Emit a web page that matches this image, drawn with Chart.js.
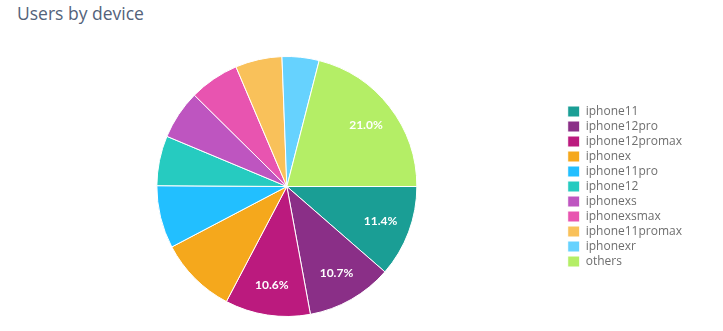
<!DOCTYPE html>
<html lang="en">
<head>
    <meta charset="UTF-8">
    <title>Users by device</title>
    <style>
        html, body { margin: 0; padding: 0; background: #fff; }
        #wrap { position: relative; width: 723px; height: 331px; }
        #title {
            position: absolute; left: 17px; top: 1px;
            font-family: "Open Sans", sans-serif; font-size: 17.5px;
            color: #53627a; white-space: nowrap;
        }
        #chart { position: absolute; left: 0; top: 0; }
    </style>
</head>
<body>
<script src="https://cdn.jsdelivr.net/npm/chart.js"></script>
<div id="wrap">
    <div id="title">Users by device</div>
    <canvas id="chart" width="723" height="331"></canvas>
</div>
<script>
    const devices = ['iphone11', 'iphone12pro', 'iphone12promax', 'iphonex', 'iphone11pro',
        'iphone12', 'iphonexs', 'iphonexsmax', 'iphone11promax', 'iphonexr', 'others'];
    const shares = [11.4, 10.7, 10.6, 9.6, 7.8, 6.2, 6.1, 6.2, 5.8, 4.6, 21.0];
    const colors = ['#1a9e95', '#8a2f87', '#bb1a7e', '#f5a81c', '#22bfff',
        '#26cbc0', '#be55c0', '#e854b0', '#f9c15a', '#66d2fe', '#b4ee66'];

    // percent labels on the big slices
    const sliceLabels = {
        id: 'sliceLabels',
        afterDatasetsDraw(chart) {
            const ctx = chart.ctx;
            const meta = chart.getDatasetMeta(0);
            ctx.save();
            ctx.fillStyle = '#fff';
            ctx.font = 'bold 12px Lato, sans-serif';
            ctx.textAlign = 'center';
            ctx.textBaseline = 'middle';
            meta.data.forEach((arc, i) => {
                const v = shares[i];
                if (v < 10) return;
                const p = arc.getProps(['x', 'y', 'startAngle', 'endAngle', 'outerRadius'], true);
                const a = (p.startAngle + p.endAngle) / 2;
                const r = p.outerRadius * 0.77;
                ctx.fillText(v.toFixed(1) + '%', p.x + Math.cos(a) * r, p.y + Math.sin(a) * r);
            });
            ctx.restore();
        }
    };

    new Chart(document.getElementById('chart'), {
        type: 'pie',
        data: {
            labels: devices,
            datasets: [{
                data: shares,
                backgroundColor: colors,
                borderColor: '#fff',
                borderWidth: 1
            }]
        },
        options: {
            responsive: false,
            animation: false,
            rotation: 90,
            layout: { padding: { top: 56, bottom: 14, left: 9, right: 31 } },
            plugins: {
                legend: {
                    position: 'right',
                    align: 'center',
                    labels: {
                        boxWidth: 12,
                        boxHeight: 11,
                        padding: 3,
                        color: '#6e6e6e',
                        font: { family: 'Open Sans', size: 12 }
                    }
                },
                tooltip: { enabled: false }
            }
        },
        plugins: [sliceLabels]
    });
</script>
</body>
</html>
